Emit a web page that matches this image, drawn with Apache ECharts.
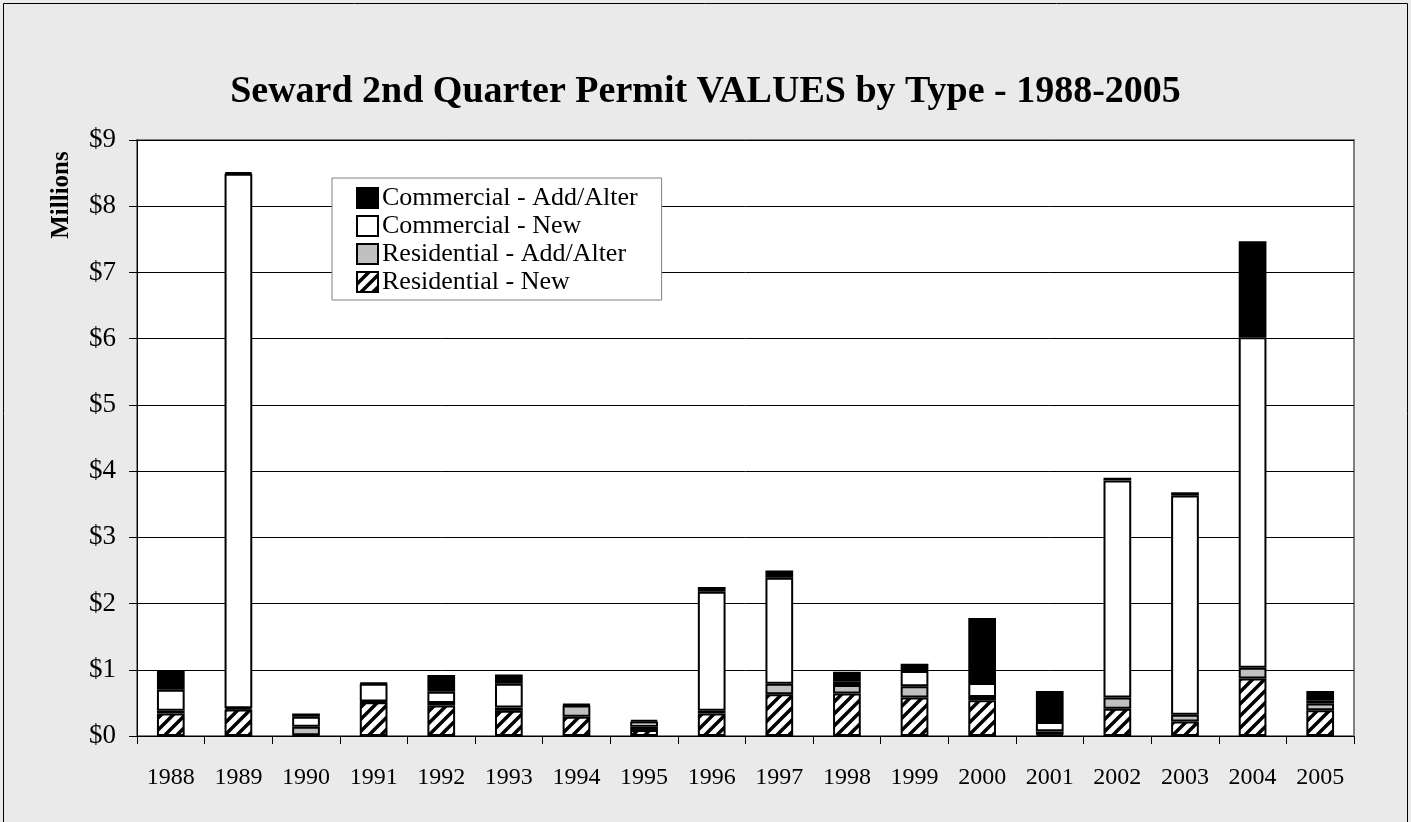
<!DOCTYPE html>
<html>
<head>
<meta charset="utf-8">
<script src="https://cdn.jsdelivr.net/npm/echarts@6/dist/echarts.min.js"></script>
<style>
  html, body { margin: 0; padding: 0; background: #eaeaea; }
  #chart { width: 1411px; height: 822px; }
</style>
</head>
<body>
<div id="chart"></div>
<script>
  const years = ["1988", "1989", "1990", "1991", "1992", "1993", "1994", "1995", "1996",
    "1997", "1998", "1999", "2000", "2001", "2002", "2003", "2004", "2005"];

  // values in millions of dollars
  const residentialNew = [0.34, 0.40, 0.01, 0.51, 0.46, 0.38, 0.29, 0.09, 0.34,
    0.63, 0.64, 0.58, 0.54, 0.02, 0.41, 0.22, 0.87, 0.39];
  const residentialAdd = [0.04, 0.02, 0.13, 0.01, 0.04, 0.05, 0.17, 0.05, 0.04,
    0.16, 0.13, 0.17, 0.05, 0.05, 0.17, 0.10, 0.16, 0.10];
  const commercialNew = [0.32, 8.07, 0.15, 0.27, 0.17, 0.36, 0.01, 0.08, 1.80,
    1.60, 0.05, 0.23, 0.21, 0.14, 3.28, 3.31, 4.99, 0.05];
  const commercialAdd = [0.28, 0.02, 0.05, 0.01, 0.25, 0.14, 0.01, 0.02, 0.07,
    0.11, 0.15, 0.11, 0.98, 0.47, 0.04, 0.05, 1.45, 0.14];

  const yTicks = [0, 1, 2, 3, 4, 5, 6, 7, 8, 9];

  const serif = "'Liberation Serif', 'Times New Roman', serif";

  // diagonal hatch for Residential - New
  function makeHatch() {
    const c = document.createElement("canvas");
    c.width = 12;
    c.height = 12;
    const ctx = c.getContext("2d");
    ctx.fillStyle = "#fff";
    ctx.fillRect(0, 0, 12, 12);
    ctx.strokeStyle = "#000";
    ctx.lineWidth = 3.5;
    ctx.beginPath();
    ctx.moveTo(-3, 15); ctx.lineTo(15, -3);
    ctx.moveTo(-9, 9); ctx.lineTo(9, -9);
    ctx.moveTo(3, 21); ctx.lineTo(21, 3);
    ctx.stroke();
    return c;
  }

  const chart = echarts.init(document.getElementById("chart"));

  function barSeries(name, data, color) {
    return {
      name: name,
      type: "bar",
      stack: "total",
      barWidth: "41%",
      data: data,
      itemStyle: { color: color, borderColor: "#000", borderWidth: 2 },
      emphasis: { disabled: true }
    };
  }

  const option = {
    backgroundColor: "#eaeaea",
    animation: false,
    title: {
      text: "Seward 2nd Quarter Permit VALUES by Type - 1988-2005",
      left: "center",
      top: 73,
      padding: 0,
      textStyle: { fontFamily: serif, fontSize: 38, fontWeight: "bold", color: "#000" }
    },
    legend: {
      orient: "vertical",
      left: 332,
      top: 178,
      padding: [7, 24, 5, 24],
      itemGap: 2,
      itemWidth: 21,
      itemHeight: 20,
      backgroundColor: "#fff",
      borderColor: "#808080",
      borderWidth: 1,
      borderRadius: 0,
      icon: "rect",
      textStyle: { fontFamily: serif, fontSize: 26, color: "#000", padding: [0, 0, 0, -1] },
      data: ["Commercial - Add/Alter", "Commercial - New", "Residential - Add/Alter", "Residential - New"]
    },
    grid: {
      left: 137,
      right: 57,
      top: 140,
      bottom: 86,
      show: true,
      backgroundColor: "#fff",
      borderColor: "#808080",
      borderWidth: 2
    },
    xAxis: {
      type: "category",
      data: years,
      axisLine: { lineStyle: { color: "#000", width: 1 } },
      axisTick: { show: true, length: 8, lineStyle: { color: "#000" } },
      axisLabel: { fontFamily: serif, fontSize: 24, color: "#000", margin: 30 }
    },
    yAxis: {
      type: "value",
      min: yTicks[0],
      max: yTicks[yTicks.length - 1],
      interval: 1,
      axisLine: { show: true, lineStyle: { color: "#000", width: 1 } },
      axisTick: { show: true, length: 8, lineStyle: { color: "#000" } },
      splitLine: { lineStyle: { color: "#000", width: 1 } },
      axisLabel: {
        fontFamily: serif, fontSize: 27, color: "#000", margin: 21,
        formatter: v => "$" + v
      }
    },
    series: [
      barSeries("Residential - New", residentialNew, { image: makeHatch(), repeat: "repeat" }),
      barSeries("Residential - Add/Alter", residentialAdd, "#c0c0c0"),
      barSeries("Commercial - New", commercialNew, "#fff"),
      barSeries("Commercial - Add/Alter", commercialAdd, "#000")
    ],
    graphic: [
      {
        type: "rect",
        shape: { x: 3.5, y: 3.5, width: 1404, height: 840 },
        style: { fill: null, stroke: "#000", lineWidth: 1 },
        silent: true
      },
      {
        type: "text",
        x: 62,
        y: 195,
        rotation: Math.PI / 2,
        style: {
          text: "Millions",
          fontFamily: serif,
          fontSize: 25,
          fontWeight: "bold",
          fill: "#000",
          align: "center",
          verticalAlign: "middle"
        },
        silent: true
      }
    ]
  };

  chart.setOption(option);
</script>
</body>
</html>
